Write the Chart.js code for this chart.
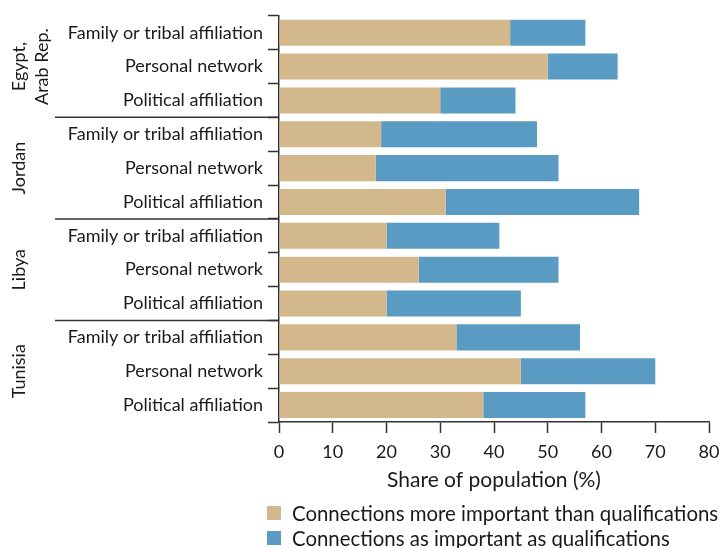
<!DOCTYPE html>
<html>
<head>
<meta charset="utf-8">
<script src="https://cdn.jsdelivr.net/npm/chart.js@4.4.1/dist/chart.umd.min.js"></script>
<style>
    html, body { margin: 0; padding: 0; background: #fff; }
    #quadro { position: relative; width: 720px; height: 548px; overflow: hidden; }
    #grafico { position: absolute; left: 0; top: 0; }
    .legenda { position: absolute; left: 267px; top: 500px; font-family: Lato, sans-serif; font-size: 20.4px; color: #1a1a1a; }
    .legenda div { display: flex; align-items: center; height: 25px; white-space: nowrap; }
    .legenda .caixa { width: 14px; height: 14px; margin-right: 11px; display: inline-block; }
</style>
</head>
<body>
<div id="quadro">
    <canvas id="grafico" width="720" height="548"></canvas>
    <div class="legenda" id="legenda"></div>
</div>
<script>
/* Connections vs qualifications, by country and type of connection */

const categorias = [
    "Family or tribal affiliation", "Personal network", "Political affiliation",
    "Family or tribal affiliation", "Personal network", "Political affiliation",
    "Family or tribal affiliation", "Personal network", "Political affiliation",
    "Family or tribal affiliation", "Personal network", "Political affiliation"
];

const paises = [["Egypt,", "Arab Rep."], ["Jordan"], ["Libya"], ["Tunisia"]];
const linhasPorPais = 3;

const maisImportante = [43, 50, 30, 19, 18, 31, 20, 26, 20, 33, 45, 38];
const taoImportante = [14, 13, 14, 29, 34, 36, 21, 26, 25, 23, 25, 19];

const nomesSeries = [
    "Connections more important than qualifications",
    "Connections as important as qualifications"
];
const coresSeries = ["#D3B88C", "#5A9BC3"];

const ticksX = { min: 0, max: 80, passo: 10 };
const tituloX = "Share of population (%)";

const fonte = "Lato, sans-serif";
const corTexto = "#1a1a1a";
const corEixo = "#333";

// separadores entre países + rótulos girados
const pluginPaises = {
    id: "paises",
    afterDraw(chart) {
        const ctx = chart.ctx;
        const escala = chart.scales.y;
        const esquerda = chart.chartArea.left;

        ctx.save();
        ctx.strokeStyle = corEixo;
        ctx.lineWidth = 1.5;

        for (let i = linhasPorPais; i < categorias.length; i += linhasPorPais) {
            const y = (escala.getPixelForValue(i - 1) + escala.getPixelForValue(i)) / 2;
            ctx.beginPath();
            ctx.moveTo(55, y);
            ctx.lineTo(esquerda, y);
            ctx.stroke();
        }

        ctx.fillStyle = corTexto;
        ctx.font = "18px " + fonte;
        ctx.textAlign = "center";
        ctx.textBaseline = "alphabetic";

        paises.forEach((linhas, g) => {
            const inicio = g * linhasPorPais;
            const centro = (escala.getPixelForValue(inicio) +
                escala.getPixelForValue(inicio + linhasPorPais - 1)) / 2;

            ctx.save();
            ctx.translate(25, centro);
            ctx.rotate(-Math.PI / 2);
            linhas.forEach((texto, k) => ctx.fillText(texto, 0, k * 23));
            ctx.restore();
        });

        ctx.restore();
    }
};

function montarLegenda() {
    const el = document.getElementById("legenda");
    nomesSeries.forEach((nome, i) => {
        const linha = document.createElement("div");
        const caixa = document.createElement("span");
        caixa.className = "caixa";
        caixa.style.background = coresSeries[i];
        linha.appendChild(caixa);
        linha.appendChild(document.createTextNode(nome));
        el.appendChild(linha);
    });
}

function criarGrafico() {
    const canvas = document.getElementById("grafico");

    return new Chart(canvas, {
        type: "bar",
        data: {
            labels: categorias,
            datasets: [
                {
                    label: nomesSeries[0],
                    data: maisImportante,
                    backgroundColor: coresSeries[0],
                    barPercentage: 0.77,
                    categoryPercentage: 1
                },
                {
                    label: nomesSeries[1],
                    data: taoImportante,
                    backgroundColor: coresSeries[1],
                    barPercentage: 0.77,
                    categoryPercentage: 1
                }
            ]
        },
        options: {
            indexAxis: "y",
            responsive: false,
            animation: false,
            layout: {
                padding: { top: 14.5, right: 0, bottom: 54, left: 0 }
            },
            plugins: {
                legend: { display: false },
                tooltip: { enabled: false }
            },
            scales: {
                x: {
                    stacked: true,
                    min: ticksX.min,
                    max: ticksX.max,
                    ticks: {
                        stepSize: ticksX.passo,
                        padding: 8,
                        color: corTexto,
                        font: { family: fonte, size: 18 }
                    },
                    grid: {
                        drawOnChartArea: false,
                        tickLength: 11,
                        tickWidth: 1.5,
                        tickColor: corEixo
                    },
                    border: { color: corEixo, width: 1.5 },
                    title: {
                        display: true,
                        text: tituloX,
                        color: corTexto,
                        font: { family: fonte, size: 21 },
                        padding: { top: 0, bottom: 1 }
                    },
                    afterFit(scale) {
                        scale.height = 72;
                        scale.paddingRight = 11;
                    }
                },
                y: {
                    stacked: true,
                    ticks: {
                        autoSkip: false,
                        padding: 5,
                        color: corTexto,
                        font: { family: fonte, size: 18 }
                    },
                    grid: {
                        offset: true,
                        drawOnChartArea: false,
                        tickLength: 11,
                        tickWidth: 1.5,
                        tickColor: corEixo
                    },
                    border: { color: corEixo, width: 1.5 },
                    afterFit(scale) {
                        scale.width = 279;
                    }
                }
            }
        },
        plugins: [pluginPaises]
    });
}

montarLegenda();
criarGrafico();
</script>
</body>
</html>
